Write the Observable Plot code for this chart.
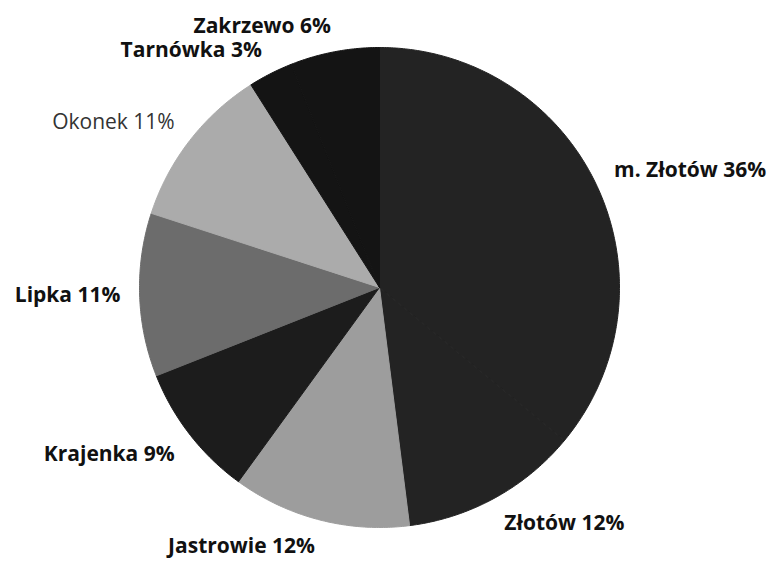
<!DOCTYPE html>
<html><head><meta charset="utf-8">
<script src="https://cdn.jsdelivr.net/npm/d3@7"></script>
<script src="https://cdn.jsdelivr.net/npm/@observablehq/plot@0.6"></script>
<style>body{margin:0;background:#fff}</style>
</head><body><div id="chart"></div>
<script>
const names = ["m. Złotów","Złotów","Jastrowie","Krajenka","Lipka","Okonek","Tarnówka","Zakrzewo"];
const shares = [36,12,12,9,11,11,3,6];
const labels = ["m. Złotów 36%","Złotów 12%","Jastrowie 12%","Krajenka 9%","Lipka 11%","Okonek 11%","Tarnówka 3%","Zakrzewo 6%"];
const colors = ["#232323","#232323","#9d9d9d","#1c1c1c","#6c6c6c","#ababab","#141414","#141414"];

const arcs = d3.pie().sort(null).value(d => d)(shares);

// slice outlines (center + arc), in unit-circle data space
const slicePts = [];
arcs.forEach((a, i) => {
  const n = Math.max(2, Math.ceil((a.endAngle - a.startAngle) / 0.01));
  slicePts.push({name: names[i], x: 0, y: 0});
  for (let k = 0; k <= n; k++) {
    const t = a.startAngle + (a.endAngle - a.startAngle) * k / n;
    slicePts.push({name: names[i], x: Math.sin(t), y: Math.cos(t)});
  }
  slicePts.push({name: names[i], x: 0, y: 0});
});

// labels placed just outside the pie at each slice's mid angle
const labelPts = arcs.map((a, i) => {
  const m = (a.startAngle + a.endAngle) / 2;
  const s = Math.sin(m), c = Math.cos(m), r = 1.08;
  return {
    label: labels[i], name: names[i], x: r * s, y: r * c,
    ta: s > 0.15 ? "start" : s < -0.15 ? "end" : "middle",
    la: c > 0.3 ? "bottom" : c < -0.3 ? "top" : "middle"
  };
});

const textMarks = [];
for (const ta of ["start", "middle", "end"]) for (const la of ["top", "middle", "bottom"]) {
  const sub = labelPts.filter(d => d.ta === ta && d.la === la);
  if (!sub.length) continue;
  textMarks.push(Plot.text(sub.filter(d => d.name !== "Okonek"), {
    x: "x", y: "y", text: "label", textAnchor: ta, lineAnchor: la,
    fontSize: 21, fontWeight: "bold", fill: "#111"
  }));
  textMarks.push(Plot.text(sub.filter(d => d.name === "Okonek"), {
    x: "x", y: "y", text: "label", textAnchor: ta, lineAnchor: la,
    fontSize: 21, fontWeight: "normal", fill: "#333"
  }));
}

const chart = Plot.plot({
  width: 782, height: 563, margin: 0,
  style: {fontFamily: "'Open Sans', Lato, sans-serif", background: "#fff"},
  x: {domain: [-1, 1], range: [139, 619], axis: null},
  y: {domain: [-1, 1], range: [527, 47], axis: null},
  color: {domain: names, range: colors},
  marks: [
    Plot.line(slicePts, {x: "x", y: "y", z: "name", fill: "name", stroke: "name", strokeWidth: 1, curve: "linear"}),
    ...textMarks
  ]
});
document.getElementById("chart").appendChild(chart);
</script>
</body></html>
